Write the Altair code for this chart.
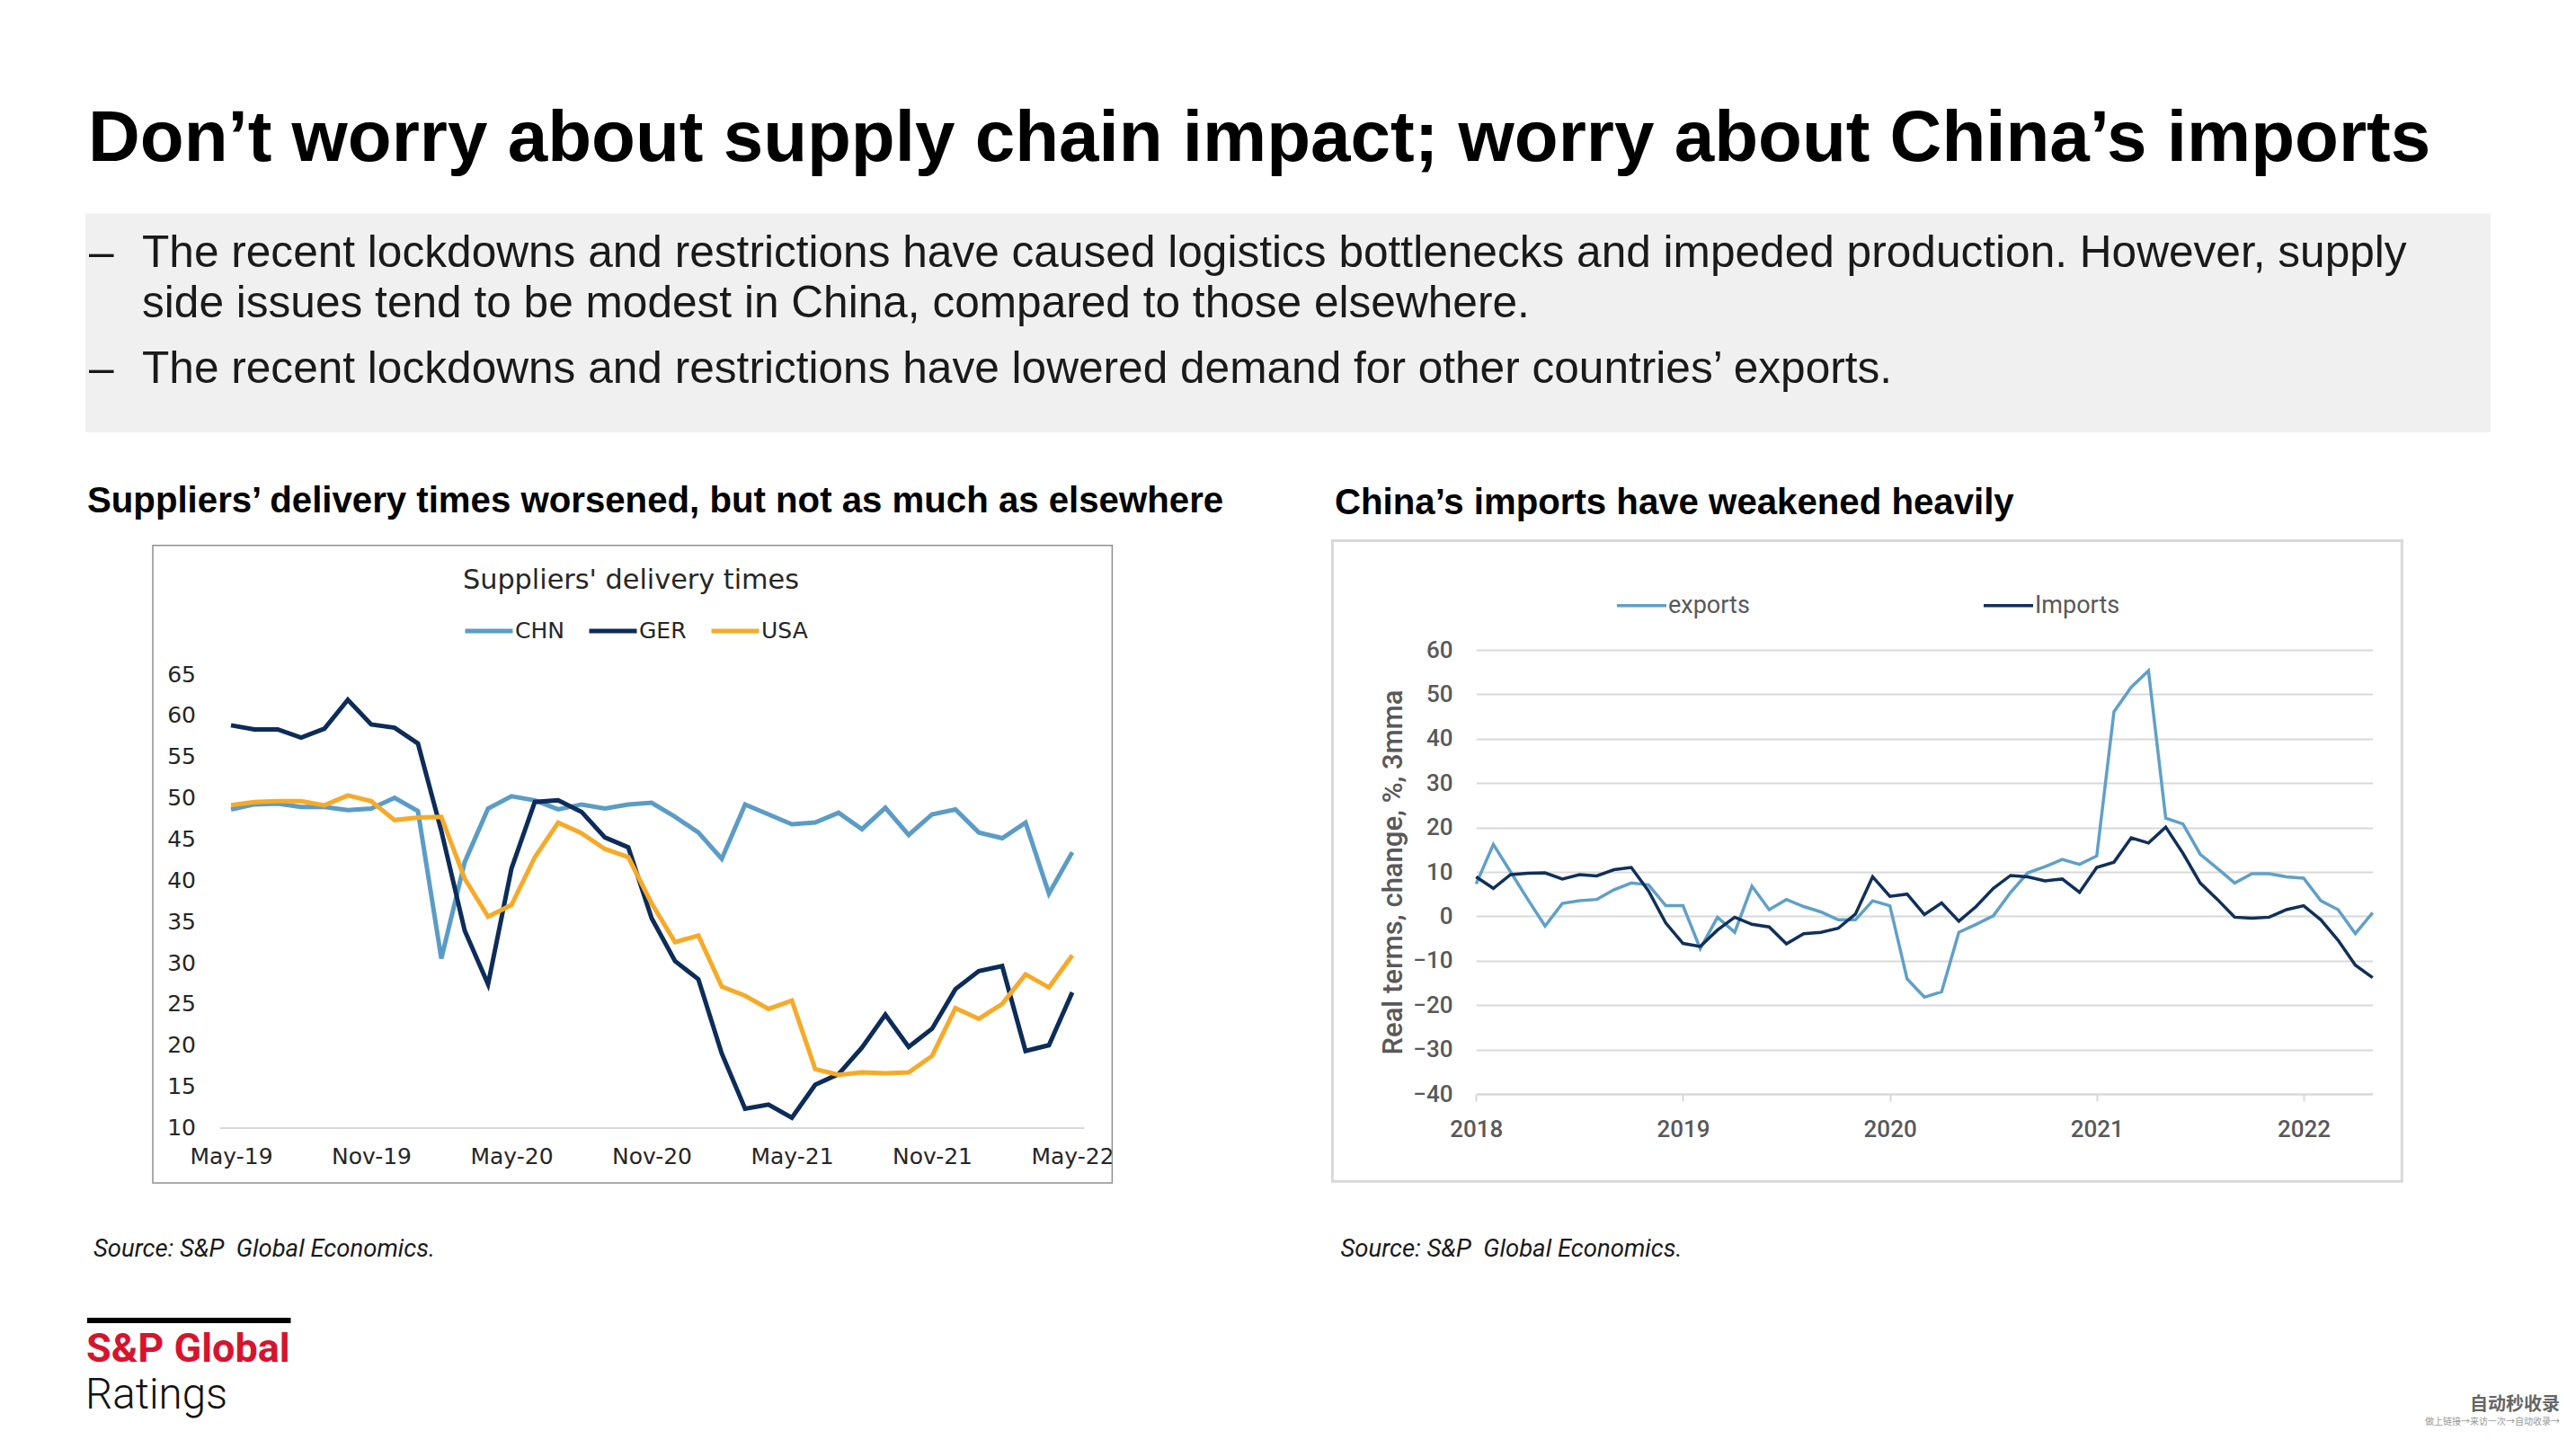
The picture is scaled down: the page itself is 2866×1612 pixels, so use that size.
import json
import altair as alt
import pandas as pd

W, H = 2850, 1588

# ---------------- text content ----------------
TITLE = "Don’t worry about supply chain impact; worry about China’s imports"
BULLET_1A = "The recent lockdowns and restrictions have caused logistics bottlenecks and impeded production. However, supply"
BULLET_1B = "side issues tend to be modest in China, compared to those elsewhere."
BULLET_2 = "The recent lockdowns and restrictions have lowered demand for other countries’ exports."
SUB_LEFT = "Suppliers’ delivery times worsened, but not as much as elsewhere"
SUB_RIGHT = "China’s imports have weakened heavily"
LEFT_CHART_TITLE = "Suppliers' delivery times"
RIGHT_Y_TITLE = "Real terms, change, %, 3mma"
SOURCE = "Source: S&P\u00a0 Global Economics."
LOGO_1 = "S&P Global"
LOGO_2 = "Ratings"
WM_1 = "自动秒收录"
WM_2 = "做上链接→来访一次→自动收录→"

# ---------------- left chart data ----------------
left_months = ["May-19", "Jun-19", "Jul-19", "Aug-19", "Sep-19", "Oct-19", "Nov-19", "Dec-19",
               "Jan-20", "Feb-20", "Mar-20", "Apr-20", "May-20", "Jun-20", "Jul-20", "Aug-20",
               "Sep-20", "Oct-20", "Nov-20", "Dec-20", "Jan-21", "Feb-21", "Mar-21", "Apr-21",
               "May-21", "Jun-21", "Jul-21", "Aug-21", "Sep-21", "Oct-21", "Nov-21", "Dec-21",
               "Jan-22", "Feb-22", "Mar-22", "Apr-22", "May-22"]
left_tick_labels = ["May-19", "Nov-19", "May-20", "Nov-20", "May-21", "Nov-21", "May-22"]
left_series = ["CHN", "GER", "USA"]
chn = [48.6, 49.2, 49.3, 48.9, 48.9, 48.5, 48.7, 50.0, 48.4, 30.5, 42.2, 48.7, 50.2, 49.7, 48.6,
       49.2, 48.7, 49.2, 49.4, 47.7, 45.8, 42.6, 49.2, 48.0, 46.8, 47.0, 48.2, 46.2, 48.8, 45.5,
       48.0, 48.6, 45.8, 45.1, 47.0, 38.4, 43.4]
ger = [58.8, 58.3, 58.3, 57.3, 58.4, 61.9, 58.9, 58.5, 56.6, 46.0, 33.9, 27.4, 41.4, 49.5, 49.7,
       48.3, 45.2, 44.0, 35.4, 30.2, 28.0, 19.0, 12.3, 12.8, 11.2, 15.2, 16.5, 19.7, 23.7, 19.8,
       22.0, 26.8, 29.0, 29.6, 19.3, 20.0, 26.4]
usa = [49.1, 49.5, 49.6, 49.6, 49.1, 50.3, 49.6, 47.3, 47.6, 47.7, 40.2, 35.6, 37.0, 42.8, 47.0,
       45.7, 43.8, 42.8, 37.2, 32.5, 33.3, 27.1, 26.0, 24.4, 25.4, 17.1, 16.4, 16.7, 16.6, 16.7,
       18.7, 24.5, 23.2, 25.0, 28.6, 27.0, 30.9]
left_colors = ["#5b9cc6", "#0c2c5a", "#f6aa28"]

# ---------------- right chart data ----------------
right_months = [f"{y}-{m:02d}" for y in range(2018, 2023) for m in range(1, 13)][:53]
right_tick_labels = ["2018", "2019", "2020", "2021", "2022"]
right_series = ["exports", "Imports"]
exports = [7.3, 16.2, 10.0, 3.8, -2.2, 2.9, 3.5, 3.8, 6.0, 7.5, 7.1, 2.4, 2.4, -7.3, -0.2, -3.6,
           6.8, 1.5, 3.8, 2.2, 1.0, -0.8, -0.8, 3.5, 2.4, -14.1, -18.2, -17.0, -3.6, -1.8, 0.1,
           5.4, 9.8, 11.2, 12.8, 11.7, 13.6, 46.1, 51.6, 55.3, 22.1, 20.8, 14.0, 10.8, 7.5, 9.6,
           9.6, 8.9, 8.6, 3.5, 1.5, -3.9, 0.8]
imports = [8.9, 6.3, 9.4, 9.7, 9.8, 8.4, 9.4, 9.1, 10.5, 11.0, 5.7, -1.5, -6.1, -6.8, -3.1, -0.2,
           -1.8, -2.4, -6.2, -3.9, -3.6, -2.7, 0.5, 8.9, 4.5, 5.0, 0.4, 3.0, -1.1, 2.2, 6.3, 9.2,
           8.9, 8.0, 8.4, 5.4, 11.0, 12.2, 17.7, 16.5, 20.1, 14.2, 7.5, 3.8, -0.2, -0.4, -0.2,
           1.5, 2.4, -0.8, -5.4, -11.0, -13.8]
right_colors = ["#5fa0c8", "#10305b"]

left_df = pd.DataFrame({
    "m": list(range(len(left_months))) * 3,
    "month": left_months * 3,
    "s": sum([[s] * len(left_months) for s in left_series], []),
    "v": chn + ger + usa,
})
right_df = pd.DataFrame({
    "m": list(range(len(right_months))) * 2,
    "month": right_months * 2,
    "s": sum([[s] * len(right_months) for s in right_series], []),
    "v": exports + imports,
})

one = pd.DataFrame({"a": [0]})


def txt(s, x, y, size, font="Liberation Sans", weight="normal", color="#000000",
        align="left", baseline="alphabetic", style="normal"):
    return alt.Chart(pd.DataFrame({"t": [s]})).mark_text(
        align=align, baseline=baseline, fontSize=size, font=font, fontWeight=weight,
        color=color, fontStyle=style
    ).encode(x=alt.value(x), y=alt.value(y), text="t:N")


def box(x1, x2, y1, y2, fill=None, stroke=None, sw=1):
    kw = {}
    if fill is not None:
        kw["fill"] = fill
    else:
        kw["fillOpacity"] = 0
    if stroke is not None:
        kw["stroke"] = stroke
        kw["strokeWidth"] = sw
    return alt.Chart(one).mark_rect(**kw).encode(
        x=alt.value(x1), x2=alt.value(x2), y=alt.value(y1), y2=alt.value(y2))


layers = []
# header
layers.append(txt(TITLE, 90, 171, 80, weight="bold"))
layers.append(box(87, 2763, 229.6, 472.7, fill="#f0f0f0"))
layers.append(txt("–", 91, 288.6, 49.6, color="#1a1a1a"))
layers.append(txt(BULLET_1A, 150, 288.6, 49.6, color="#1a1a1a"))
layers.append(txt(BULLET_1B, 150, 345, 49.6, color="#1a1a1a"))
layers.append(txt("–", 91, 418, 49.6, color="#1a1a1a"))
layers.append(txt(BULLET_2, 150, 418, 49.6, color="#1a1a1a"))
layers.append(txt(SUB_LEFT, 89, 562, 40.2, weight="bold"))
layers.append(txt(SUB_RIGHT, 1477, 564, 40.2, weight="bold"))

# frames
layers.append(box(162, 1229.4, 598.8, 1308, stroke="#8f8f8f", sw=1.5))
layers.append(box(1474.4, 2664.3, 593.4, 1306.2, stroke="#d9d9d9", sw=3))

# left chart
layers.append(txt(LEFT_CHART_TITLE, 694, 647, 30.3, font="DejaVu Sans", color="#262626",
                  align="center"))
left_lbl = json.dumps(left_tick_labels)
left_chart = alt.Chart(left_df).mark_line(strokeWidth=5).encode(
    x=alt.X("m:Q",
            scale=alt.Scale(domain=[-0.5, len(left_months) - 0.5], range=[236, 1198],
                            nice=False, zero=False),
            axis=alt.Axis(orient="bottom", offset=1246.5 - H, values=[0, 6, 12, 18, 24, 30, 36],
                          labelExpr=f"{left_lbl}[round(datum.value / 6)]",
                          domainColor="#d9d9d9", domainWidth=2, ticks=False, grid=False,
                          labelFont="DejaVu Sans", labelFontSize=25, labelColor="#262626",
                          labelPadding=20, labelFlush=False, labelOverlap=False, title=None)),
    y=alt.Y("v:Q",
            scale=alt.Scale(domain=[10, 65], range=[1246.5, 742], nice=False, zero=False),
            axis=alt.Axis(orient="left", offset=-209.5, values=list(range(10, 70, 5)),
                          domain=False, ticks=False, grid=False, labelPadding=0,
                          labelFont="DejaVu Sans", labelFontSize=25, labelColor="#262626",
                          title=None)),
    color=alt.Color("s:N",
                    scale=alt.Scale(domain=left_series, range=left_colors),
                    legend=alt.Legend(orient="none", legendX=507, legendY=665,
                                      direction="horizontal", title=None,
                                      symbolType="stroke", symbolSize=2809,
                                      symbolStrokeWidth=5, labelFont="DejaVu Sans",
                                      labelFontSize=25, labelColor="#262626",
                                      labelOffset=0, columnPadding=17, padding=0)),
    detail="s:N",
)
layers.append(left_chart)

# right chart
right_lbl = json.dumps(right_tick_labels)
right_chart = alt.Chart(right_df).mark_line(strokeWidth=3.5).encode(
    x=alt.X("m:Q",
            scale=alt.Scale(domain=[0, len(right_months) - 1], range=[1634.3, 2631.7],
                            nice=False, zero=False),
            axis=alt.Axis(orient="bottom", offset=1209 - H, values=[0, 12, 24, 36, 48],
                          labelExpr=f"{right_lbl}[round(datum.value / 12)]",
                          domainColor="#d9d9d9", domainWidth=2, tickColor="#d9d9d9",
                          tickWidth=2, tickSize=8, grid=False, labelPadding=18,
                          labelFont="Roboto", labelFontSize=26, labelFontWeight=500,
                          labelColor="#595959", labelFlush=False, labelOverlap=False,
                          title=None)),
    y=alt.Y("v:Q",
            scale=alt.Scale(domain=[-40, 60], range=[1209, 715], nice=False, zero=False),
            axis=alt.Axis(orient="left", offset=-1608, values=list(range(-40, 70, 10)),
                          domain=False, ticks=False, grid=True, gridColor="#d9d9d9",
                          gridWidth=2, labelPadding=0, labelFont="Roboto", labelFontSize=26,
                          labelFontWeight=500, labelColor="#595959",
                          title=RIGHT_Y_TITLE, titleFont="Roboto", titleFontSize=31,
                          titleFontWeight=500, titleColor="#595959", titleX=-66,
                          titleY=962, titleAngle=270, titleAlign="center",
                          titleBaseline="middle")),
    color=alt.Color("s:N",
                    scale=alt.Scale(domain=right_series, range=right_colors),
                    legend=alt.Legend(orient="none", legendX=1789, legendY=636,
                                      direction="horizontal", title=None,
                                      symbolType="stroke", symbolSize=3025,
                                      symbolStrokeWidth=3.5, labelFont="Roboto",
                                      labelFontSize=27, labelColor="#595959",
                                      labelOffset=0, columnPadding=253, padding=0)),
    detail="s:N",
)
layers.append(right_chart)

# sources
layers.append(txt(SOURCE, 96, 1390, 27.5, font="Roboto", style="italic", color="#1a1a1a"))
layers.append(txt(SOURCE, 1483.5, 1390, 27.5, font="Roboto", style="italic", color="#1a1a1a"))

# logo
layers.append(box(89, 315.5, 1458, 1464, fill="#000000"))
layers.append(txt(LOGO_1, 88, 1507, 45, font="Roboto", weight="bold", color="#d6142e"))
layers.append(txt(LOGO_2, 87, 1559, 47.5, font="Roboto", weight=300, color="#111111"))

# watermark
layers.append(txt(WM_1, 2740, 1555, 20, font="Noto Sans CJK SC", weight="bold",
                  color="#666666", baseline="middle"))
layers.append(txt(WM_2, 2690, 1574, 10, font="Noto Sans CJK SC", color="#999999",
                  baseline="middle"))

chart = alt.layer(*layers).resolve_scale(
    x="independent", y="independent", color="independent"
).resolve_axis(
    x="independent", y="independent"
).resolve_legend(
    color="independent"
).properties(
    width=W, height=H, autosize=alt.AutoSizeParams(type="none"), padding=0,
    background="white"
).configure_view(stroke=None)

chart.save("out.html", embed_options={"renderer": "svg", "actions": False})
